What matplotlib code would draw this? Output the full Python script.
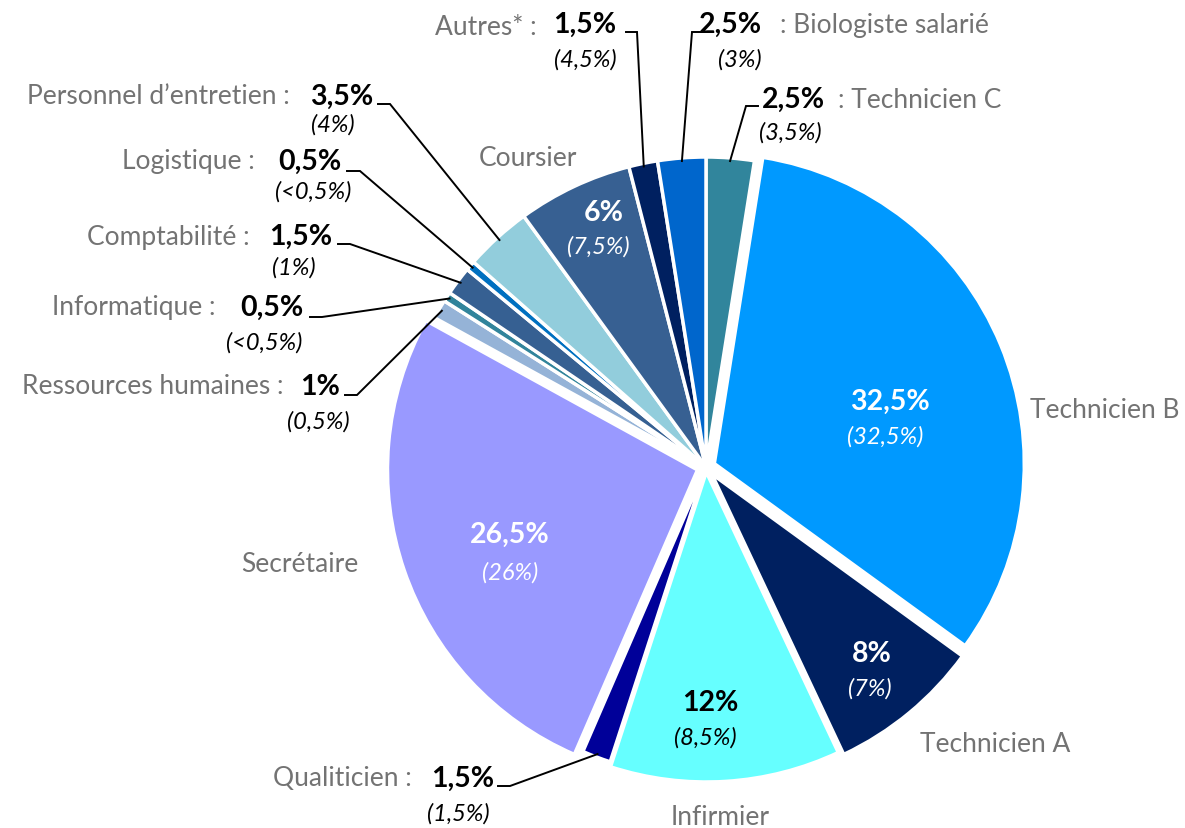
import numpy as np
import matplotlib
matplotlib.use("Agg")
import matplotlib.pyplot as plt

# data (clockwise from 12 o'clock)
categories = ["Technicien C", "Technicien B", "Technicien A", "Infirmier", "Qualiticien",
              "Secrétaire", "Ressources humaines", "Informatique", "Comptabilité",
              "Logistique", "Personnel d\u2019entretien", "Coursier", "Autres*",
              "Biologiste salarié"]
shares = [2.5, 32.5, 8, 12, 1.5, 26.5, 1, 0.5, 1.5, 0.5, 3.5, 6, 1.5, 2.5]
previous = ["(3,5%)", "(32,5%)", "(7%)", "(8,5%)", "(1,5%)", "(26%)", "(0,5%)",
            "(<0,5%)", "(1%)", "(<0,5%)", "(4%)", "(7,5%)", "(4,5%)", "(3%)"]
colors = ["#31859C", "#0099FF", "#002060", "#66FFFF", "#000099", "#9999FF", "#95B3D7",
          "#31849B", "#366092", "#0070C0", "#92CDDC", "#376092", "#002060", "#0066CC"]
# offsets in pixels (pie explode is in data units here)
explode = [0, 9, 9, 5, 0, 9, 0, 0, 0, 0, 0, 0, 0, 0]

W, H = 1185, 829
FONT = ["Lato", "DejaVu Sans"]
GREY = "#737373"
FS_NAME, FS_PCT, FS_PREV = 19, 20.5, 17

def fmt(v):
    return f"{v:g}".replace(".", ",") + "%"

fig = plt.figure(figsize=(W / 100, H / 100), dpi=100)
ax = fig.add_axes([0, 0, 1, 1])

cx, cy, R = 706, H - 468, 310
wedges, _ = ax.pie(shares, colors=colors, startangle=90, counterclock=False,
                   explode=explode, center=(cx, cy), radius=R,
                   wedgeprops=dict(edgecolor="white", linewidth=2.5))
ax.set_xlim(0, W)
ax.set_ylim(0, H)
ax.set_aspect("equal")
ax.axis("off")

def T(x, y, s, **kw):
    kw.setdefault("family", FONT)
    ax.text(x, H - y, s, **kw)

# big slices: values inside, name outside
inside = {
    "Technicien B": ((890, 402), (885, 437), "white", (1105, 410)),
    "Technicien A": ((872, 654), (870, 689), "white", (995, 745)),
    "Infirmier": ((710, 703), (705, 738), "black", (720, 818)),
    "Secrétaire": ((510, 535), (510, 573), "white", (300, 565)),
    "Coursier": ((604, 213), (598, 247), "white", (528, 158)),
}
for name, (p, s, c, n) in inside.items():
    i = categories.index(name)
    T(*p, fmt(shares[i]), color=c, fontsize=FS_PCT, fontweight="bold", ha="center", va="center")
    T(*s, previous[i], color=c, fontsize=FS_PREV, style="italic", ha="center", va="center")
    T(*n, name, color=GREY, fontsize=FS_NAME, ha="center", va="center")

# small slices: outside labels with leader lines
# name anchor, name ha, pct pos, previous pos, leader start, leader elbow x
outside = {
    "Autres*": ((537, 27), "right", (585, 25), (585, 60), (626, 33), 637),
    "Biologiste salarié": ((780, 25), "left", (730, 25), (740, 60), (703, 33), 692),
    "Technicien C": ((838, 100), "left", (793, 100), (790, 133), (758, 107), 746),
    "Personnel d\u2019entretien": ((290, 97), "right", (342, 97), (333, 125), (378, 105), 390),
    "Logistique": ((255, 162), "right", (310, 162), (313, 192), (347, 172), 360),
    "Comptabilité": ((250, 237), "right", (301, 237), (294, 268), (338, 245), 350),
    "Informatique": ((215, 308), "right", (272, 308), (264, 343), (310, 318), 322),
    "Ressources humaines": ((283, 387), "right", (320, 387), (318, 422), (345, 396), 357),
    "Qualiticien": ((412, 779), "right", (463, 779), (458, 814), (498, 787), 510),
}
for name, (n, ha, p, s, start, ex) in outside.items():
    i = categories.index(name)
    label = name + " :" if ha == "right" else ": " + name
    T(*n, label, color=GREY, fontsize=FS_NAME, ha=ha, va="center")
    T(*p, fmt(shares[i]), color="black", fontsize=FS_PCT, fontweight="bold", ha="center", va="center")
    T(*s, previous[i], color="black", fontsize=FS_PREV, style="italic", ha="center", va="center")
    w = wedges[i]
    mid = np.deg2rad((w.theta1 + w.theta2) / 2)
    ex_x = w.center[0] + w.r * 0.99 * np.cos(mid)
    ex_y = w.center[1] + w.r * 0.99 * np.sin(mid)
    ax.plot([start[0], ex, ex_x], [H - start[1], H - start[1], ex_y],
            color="black", lw=1.4, solid_joinstyle="miter")

fig.savefig("out.png", dpi=100, facecolor="white")
